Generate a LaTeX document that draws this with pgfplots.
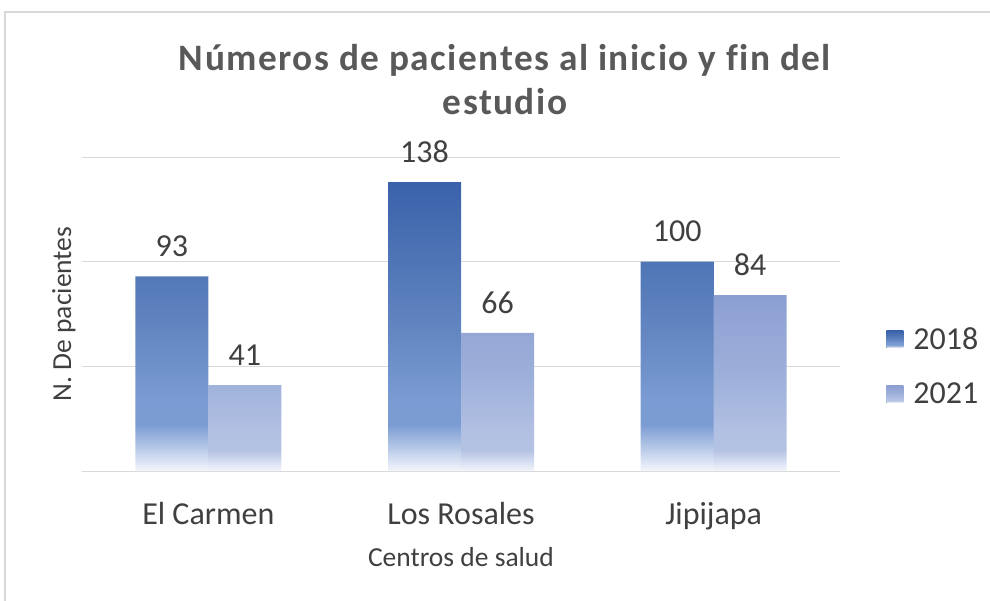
\documentclass[border=0pt]{standalone}
\usepackage{fontspec}
\setmainfont{Carlito}
\newfontfamily\titlefont[LetterSpace=4,Ligatures=NoCommon]{Carlito}
\usepackage{pgfplots}
\pgfplotsset{compat=1.18}
\definecolor{txt}{HTML}{404040}
\definecolor{ttl}{HTML}{595959}
\definecolor{grd}{HTML}{D9D9D9}
\definecolor{a1}{HTML}{3A62AA}
\definecolor{a2}{HTML}{5E82BE}
\definecolor{a3}{HTML}{7B9CD3}
\definecolor{a4}{HTML}{F4F6FC}
\definecolor{b1}{HTML}{8C9FD2}
\definecolor{b2}{HTML}{9DB0DA}
\definecolor{b3}{HTML}{B3C1E3}
\definecolor{b4}{HTML}{F4F6FC}
\pgfdeclareverticalshading{s18}{100bp}{color(0bp)=(a4); color(25bp)=(a4); color(33bp)=(a3); color(37bp)=(a3); color(52bp)=(a2); color(75bp)=(a1); color(100bp)=(a1)}
\pgfdeclareverticalshading{s21}{100bp}{color(0bp)=(b4); color(25bp)=(b4); color(31bp)=(b3); color(35bp)=(b3); color(52bp)=(b2); color(75bp)=(b1); color(100bp)=(b1)}
\begin{document}
\begin{tikzpicture}[x=1pt,y=1pt]
\useasboundingbox (0,0) rectangle (990,-600);
\draw[grd, line width=1.5pt] (5,-12) rectangle (1000,-610);
\begin{axis}[
  at={(82pt,-471pt)}, anchor=south west,
  scale only axis, width=758pt, height=314pt,
  ybar=0pt, bar width=73pt,
  xmin=-0.5, xmax=2.5, ymin=0, ymax=150,
  xtick={0,1,2}, xticklabels={El Carmen, Los Rosales, Jipijapa},
  ytick={0,50,100,150}, yticklabels={},
  ymajorgrids, grid style={grd, line width=1pt},
  axis line style={draw=none}, major tick length=0pt,
  tick label style={font=\fontsize{32}{36}\selectfont, text=txt},
  xticklabel style={yshift=-28pt},
  nodes near coords,
  nodes near coords style={font=\fontsize{32}{36}\selectfont, text=txt, yshift=16pt},
  /pgf/number format/assume math mode=true,
  legend style={at={(1.057,0.47)}, anchor=north west, draw=none, fill=none,
    font=\fontsize{32}{36}\selectfont, text=txt, row sep=28pt,
    /tikz/every odd column/.append style={column sep=8pt}},
  legend cell align=left,
  legend image code/.code={\fill[#1] (0pt,-8.5pt) rectangle (17pt,8.5pt);},
  clip=false,
]
\addplot[draw=none, shading=s18] coordinates {(0,93) (1,138) (2,100)};
\addplot[draw=none, shading=s21] coordinates {(0,41) (1,66) (2,84)};
\legend{2018,2021}
\end{axis}
\node[text=ttl, align=center, font=\titlefont\bfseries\fontsize{37.3}{44}\selectfont] at (505,-80) {Números de pacientes al inicio y fin del\\estudio};
\node[text=txt, font=\fontsize{27.5}{30}\selectfont, rotate=90] at (64,-314) {N. De pacientes};
\node[text=txt, font=\fontsize{27.5}{30}\selectfont] at (461,-557) {Centros de salud};
\end{tikzpicture}
\end{document}
